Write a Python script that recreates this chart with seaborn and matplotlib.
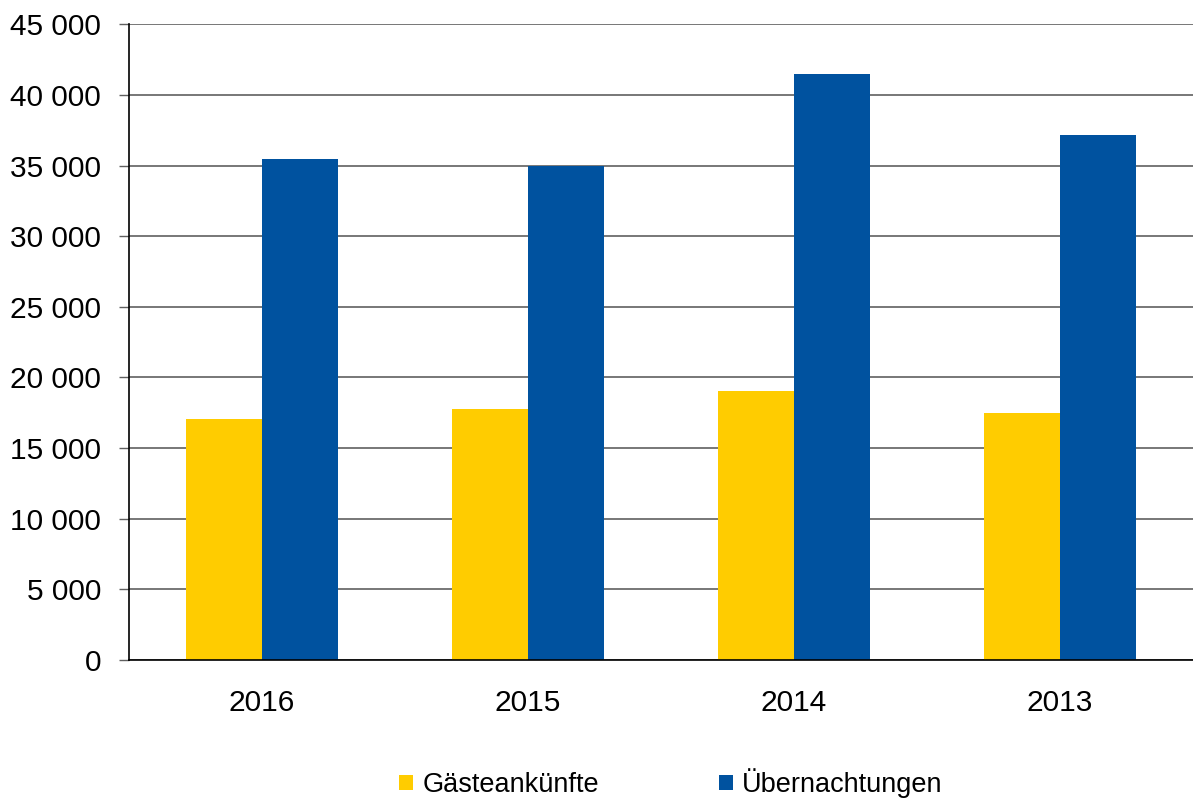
import pandas as pd
import seaborn as sns
import matplotlib.pyplot as plt
from matplotlib.ticker import FuncFormatter
from matplotlib.patches import Patch

years = ["2016", "2015", "2014", "2013"]
arrivals = [17030, 17740, 19030, 17450]
overnight = [35430, 34970, 41460, 37190]
series_names = ["Gästeankünfte", "Übernachtungen"]
colors = ["#FFCC00", "#00529F"]
y_ticks = list(range(0, 45001, 5000))

df = pd.DataFrame({
    "Jahr": years * 2,
    "Wert": arrivals + overnight,
    "Serie": [series_names[0]] * 4 + [series_names[1]] * 4,
})

sns.set_style("white")
plt.rcParams["font.family"] = ["Liberation Sans", "DejaVu Sans"]
plt.rcParams["text.color"] = "black"

fig = plt.figure(figsize=(11.93, 8), dpi=100)
ax = fig.add_axes([129 / 1193, 140 / 800, 1 - 129 / 1193, (660 - 24.3) / 800])

sns.barplot(data=df, x="Jahr", y="Wert", hue="Serie", order=years,
            hue_order=series_names, palette=colors, width=0.57,
            saturation=1, linewidth=0, legend=False, ax=ax)

ax.set_ylim(0, 45000)
ax.set_yticks(y_ticks)
ax.yaxis.set_major_formatter(FuncFormatter(lambda v, p: f"{int(v):,}".replace(",", " ")))
ax.grid(axis="y", color="#606060", linewidth=1.2)
ax.set_axisbelow(True)
ax.set_xlabel("")
ax.set_ylabel("")

for s in ["top", "right"]:
    ax.spines[s].set_visible(False)
ax.spines["left"].set_color("black")
ax.spines["bottom"].set_color("black")
ax.spines["left"].set_linewidth(1.2)
ax.spines["bottom"].set_linewidth(1.2)

ax.tick_params(axis="y", left=True, length=7, width=1, color="#606060",
               pad=13, labelsize=21.5, labelcolor="black")
ax.tick_params(axis="x", bottom=False, length=0, pad=21, labelsize=21.5,
               labelcolor="black")

handles = [Patch(facecolor=c, edgecolor="none") for c in colors]
fig.legend(handles, series_names, loc="center", bbox_to_anchor=(671 / 1193, 1 - 783 / 800),
           ncol=2, frameon=False, handlelength=0.5, handleheight=0.5,
           handletextpad=0.35, columnspacing=4.45, labelcolor="black",
           prop={"family": ["Liberation Sans Narrow", "Liberation Sans"], "size": 19.5})

fig.savefig("out.png", dpi=100)
